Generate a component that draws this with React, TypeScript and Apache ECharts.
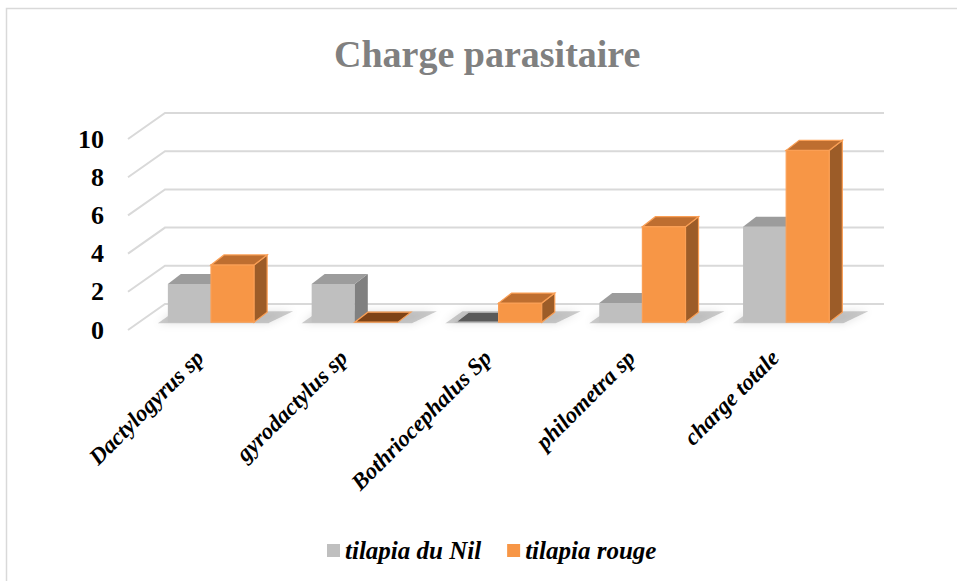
import React, { useEffect, useRef } from 'react';
import * as echarts from 'echarts';

const categories = ['Dactylogyrus sp', 'gyrodactylus sp', 'Bothriocephalus Sp', 'philometra sp', 'charge totale'];
const seriesNames = ['tilapia du Nil', 'tilapia rouge'];
const nilValues = [2, 2, 0, 1, 5];
const rougeValues = [3, 0, 1, 5, 9];
const yTicks = [0, 2, 4, 6, 8, 10];

const FONT = '"Liberation Serif", "Times New Roman", serif';
const DEPTH_X = 37;
const DEPTH_Y = -26;
const BAR_OFF = 0.3;
const BAR_DX = 13;
const BAR_DY = -10;

const palettes = [
  { front: '#BFBFBF', top: '#9C9C9C', side: '#808080', zero: '#5A5A5A', stroke: '#BFBFBF' },
  { front: '#F79646', top: '#BE6E30', side: '#9C5C28', zero: '#7E4316', stroke: '#FA9F55' },
];

function barGeom(api: any, ci: number, v: number, sIdx: number) {
  const band = api.size([1, 0])[0];
  const p0 = api.coord([ci, 0]);
  const p1 = api.coord([ci, v]);
  const bw = band * 0.3;
  const cx = p0[0] + DEPTH_X * BAR_OFF;
  const x0 = sIdx === 0 ? cx - bw : cx;
  const x1 = x0 + bw;
  const yb = p0[1] + DEPTH_Y * BAR_OFF;
  const yt = p1[1] + DEPTH_Y * BAR_OFF;
  return { band, x0, x1, yb, yt, bw, cx };
}

function makeBarRender(sIdx: number) {
  const pal = palettes[sIdx];
  return (params: any, api: any) => {
    const ci = api.value(0);
    const v = api.value(1);
    const { x0, x1, yb, yt } = barGeom(api, ci, v, sIdx);
    const children: any[] = [];
    if (v > 0) {
      children.push({
        type: 'rect',
        shape: { x: x0, y: yt, width: x1 - x0, height: yb - yt },
        style: { fill: pal.front, stroke: pal.stroke, lineWidth: sIdx === 1 ? 1.2 : 0 },
      });
      children.push({
        type: 'polygon',
        shape: { points: [[x1, yt], [x1 + BAR_DX, yt + BAR_DY], [x1 + BAR_DX, yb + BAR_DY], [x1, yb]] },
        style: { fill: pal.side, stroke: pal.stroke, lineWidth: sIdx === 1 ? 1.2 : 0 },
      });
      children.push({
        type: 'polygon',
        shape: { points: [[x0, yt], [x1, yt], [x1 + BAR_DX, yt + BAR_DY], [x0 + BAR_DX, yt + BAR_DY]] },
        style: { fill: pal.top, stroke: pal.stroke, lineWidth: sIdx === 1 ? 1.2 : 0 },
      });
    } else {
      children.push({
        type: 'polygon',
        shape: { points: [[x0, yb], [x1, yb], [x1 + BAR_DX, yb + BAR_DY], [x0 + BAR_DX, yb + BAR_DY]] },
        style: { fill: pal.zero, stroke: pal.stroke, lineWidth: 1.2 },
      });
    }
    return { type: 'group', children };
  };
}

const shadowRender = (params: any, api: any) => {
  const ci = api.value(0);
  const { x0, yb, bw } = barGeom(api, ci, 0, 0);
  const x1 = x0 + bw * 2;
  return {
    type: 'polygon',
    shape: {
      points: [
        [x0 - 10, yb + 1],
        [x1 + 14, yb + 1],
        [x1 + BAR_DX + 26, yb + BAR_DY - 1],
        [x0 + BAR_DX - 6, yb + BAR_DY - 1],
      ],
    },
    style: { fill: 'rgba(90,90,90,0.3)', shadowBlur: 8, shadowColor: 'rgba(0,0,0,0.4)' },
  };
};

const gridRender = (params: any, api: any) => {
  const v = api.value(1);
  const band = api.size([1, 0])[0];
  const pL = api.coord([0, v]);
  const pR = api.coord([categories.length - 1, v]);
  const left = pL[0] - band / 2;
  const right = pR[0] + band / 2;
  const y = pL[1];
  return {
    type: 'polyline',
    shape: { points: [[left, y], [left + DEPTH_X, y + DEPTH_Y], [right + DEPTH_X, y + DEPTH_Y]] },
    style: { stroke: '#D9D9D9', lineWidth: 2, fill: 'none' },
  };
};

export default function App() {
  const ref = useRef<HTMLDivElement>(null);
  useEffect(() => {
    if (!ref.current) return;
    const chart = echarts.init(ref.current, undefined, { renderer: 'svg' });
    chart.setOption({
      animation: false,
      backgroundColor: '#FFFFFF',
      title: {
        text: 'Charge parasitaire',
        left: 329,
        top: 30,
        textStyle: { fontFamily: FONT, fontWeight: 'bold', fontSize: 38, color: '#808080' },
      },
      graphic: [
        {
          type: 'rect',
          silent: true,
          z: -10,
          shape: { x: 6.5, y: 8.5, width: 1200, height: 1200 },
          style: { fill: 'none', stroke: '#D9D9D9', lineWidth: 1.5 },
        },
      ],
      legend: {
        data: seriesNames,
        left: 322,
        top: 533,
        icon: 'rect',
        itemWidth: 13,
        itemHeight: 13,
        itemGap: 26,
        textStyle: { fontFamily: FONT, fontWeight: 'bold', fontStyle: 'italic', fontSize: 25, color: '#000' },
      },
      grid: { left: 128, right: 110, top: 139, bottom: 251, containLabel: false },
      xAxis: {
        type: 'category',
        data: categories,
        axisLine: { show: false },
        axisTick: { show: false },
        axisLabel: {
          interval: 0,
          rotate: 45,
          margin: 24,
          fontFamily: FONT,
          fontWeight: 'bold',
          fontStyle: 'italic',
          fontSize: 23,
          color: '#000',
        },
      },
      yAxis: {
        type: 'value',
        min: 0,
        max: 10,
        interval: 2,
        axisLine: { show: false },
        axisTick: { show: false },
        splitLine: { show: false },
        axisLabel: { margin: 24, fontFamily: FONT, fontWeight: 'bold', fontSize: 26, color: '#000' },
      },
      series: [
        {
          type: 'custom',
          name: 'grid',
          z: 1,
          silent: true,
          renderItem: gridRender,
          data: yTicks.map((t) => [0, t]),
          encode: { x: 0, y: 1 },
        },
        {
          type: 'custom',
          name: 'shadow',
          z: 2,
          silent: true,
          renderItem: shadowRender,
          data: categories.map((_, i) => [i, 0]),
          encode: { x: 0, y: 1 },
        },
        {
          type: 'custom',
          name: seriesNames[0],
          z: 3,
          itemStyle: { color: palettes[0].front },
          renderItem: makeBarRender(0),
          data: nilValues.map((v, i) => [i, v]),
          encode: { x: 0, y: 1 },
        },
        {
          type: 'custom',
          name: seriesNames[1],
          z: 4,
          itemStyle: { color: palettes[1].front },
          renderItem: makeBarRender(1),
          data: rougeValues.map((v, i) => [i, v]),
          encode: { x: 0, y: 1 },
        },
      ],
    });
    return () => chart.dispose();
  }, []);
  return (
    <div
      ref={ref}
      style={{ position: 'absolute', left: 0, top: 0, width: 957, height: 581 }}
    />
  );
}
